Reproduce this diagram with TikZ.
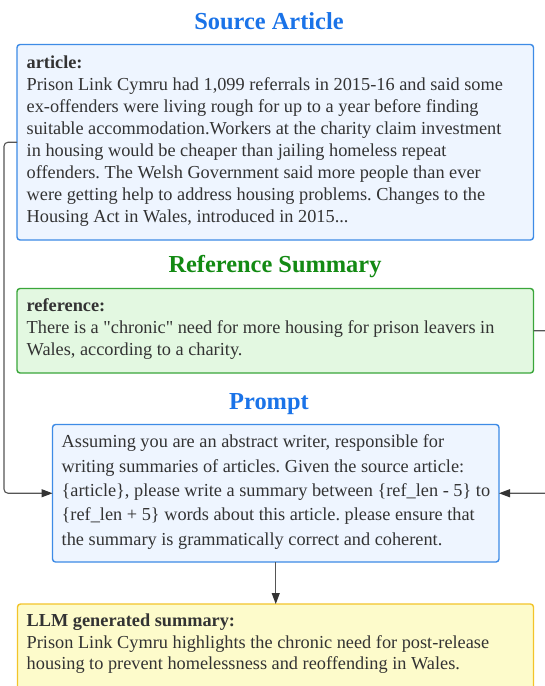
\documentclass[tikz,border=0pt]{standalone}
\usepackage{fontspec}
\setmainfont{Liberation Serif}[Ligatures=TeXOff]
\usetikzlibrary{arrows.meta}
\definecolor{titleblue}{HTML}{1A73E8}
\definecolor{titlegreen}{HTML}{138A13}
\definecolor{bluefill}{HTML}{EEF5FF}
\definecolor{blueline}{HTML}{3D8BE6}
\definecolor{greenfill}{HTML}{E3F8E1}
\definecolor{greenline}{HTML}{3AA63A}
\definecolor{yellowfill}{HTML}{FDFBCB}
\definecolor{yellowline}{HTML}{F3C42A}
\definecolor{textgray}{HTML}{333333}
\definecolor{conngray}{HTML}{555555}
\definecolor{tipgray}{HTML}{333333}
\frenchspacing
\begin{document}
\begin{tikzpicture}[x=1pt,y=-1pt,
  box/.style={draw, line width=1.4pt, rounded corners=3pt, inner sep=0pt, outer sep=0pt, anchor=north west},
  bluebox/.style={box, fill=bluefill, draw=blueline},
  greenbox/.style={box, fill=greenfill, draw=greenline},
  yellowbox/.style={box, fill=yellowfill, draw=yellowline},
  title/.style={font=\fontsize{24.4}{28}\selectfont\bfseries, anchor=base, inner sep=0pt},
  bodytext/.style={font=\fontsize{18.3}{22}\selectfont\frenchspacing, text=textgray, anchor=base west, inner sep=0pt},
  conn/.style={draw=conngray, line width=1.1pt, rounded corners=4pt, -{Triangle[length=11pt,width=8pt,color=tipgray]}}
]
\useasboundingbox (0,0) rectangle (544,686);
\fill[white] (0,0) rectangle (544,686);

% titles
\node[title, text=titleblue] (t1) at (269,29.3) {Source Article};
\node[title, text=titlegreen] (t2) at (275,272) {Reference Summary};
\node[title, text=titleblue] (t3) at (269,409.3) {Prompt};

% boxes
\node[bluebox, minimum width=516.5pt, minimum height=195.5pt] (art) at (17,44.5) {};
\node[greenbox, minimum width=516.5pt, minimum height=84.5pt] (ref) at (17,288.5) {};
\node[bluebox, minimum width=446.5pt, minimum height=137.5pt] (prm) at (52.5,424.5) {};
\node[yellowbox, minimum width=516pt, minimum height=100pt] (llm) at (17.5,604) {};

% texts
\node[bodytext] (artt) at (26.5,68) {\begin{tabular}[t]{@{}l@{}}\textbf{article:}\\
Prison Link Cymru had 1,099 referrals in 2015-16 and said some\\
ex-offenders were living rough for up to a year before finding\\
suitable accommodation.Workers at the charity claim investment\\
in housing would be cheaper than jailing homeless repeat\\
offenders. The Welsh Government said more people than ever\\
were getting help to address housing problems. Changes to the\\
Housing Act in Wales, introduced in 2015...\end{tabular}};

\node[bodytext] (reft) at (26.5,311.5) {\begin{tabular}[t]{@{}l@{}}\textbf{reference:}\\
There is a "chronic" need for more housing for prison leavers in\\
Wales, according to a charity.\end{tabular}};

\node[bodytext, font=\fontsize{18.3}{24.4}\selectfont\frenchspacing] (prmt) at (61.5,447.7) {\begin{tabular}[t]{@{}l@{}}Assuming you are an abstract writer, responsible for\\
writing summaries of articles. Given the source article:\\
\{article\}, please write a summary between \{ref\_len - 5\} to\\
\{ref\_len + 5\} words about this article. please ensure that\\
the summary is grammatically correct and coherent.\end{tabular}};

\node[bodytext, font=\fontsize{18.3}{21.6}\selectfont\frenchspacing] (llmt) at (26.5,626.7) {\begin{tabular}[t]{@{}l@{}}\textbf{LLM generated summary:}\\
Prison Link Cymru highlights the chronic need for post-release\\
housing to prevent homelessness and reoffending in Wales.\end{tabular}};

% connectors
\draw[conn] (art.west) -- ++(-13,0) |- (prm.west);
\draw[conn] (ref.east) -- ++(16,0) |- (prm.east);
\draw[conn] (prm.south) -- (prm.south |- llm.north);
\end{tikzpicture}
\end{document}
